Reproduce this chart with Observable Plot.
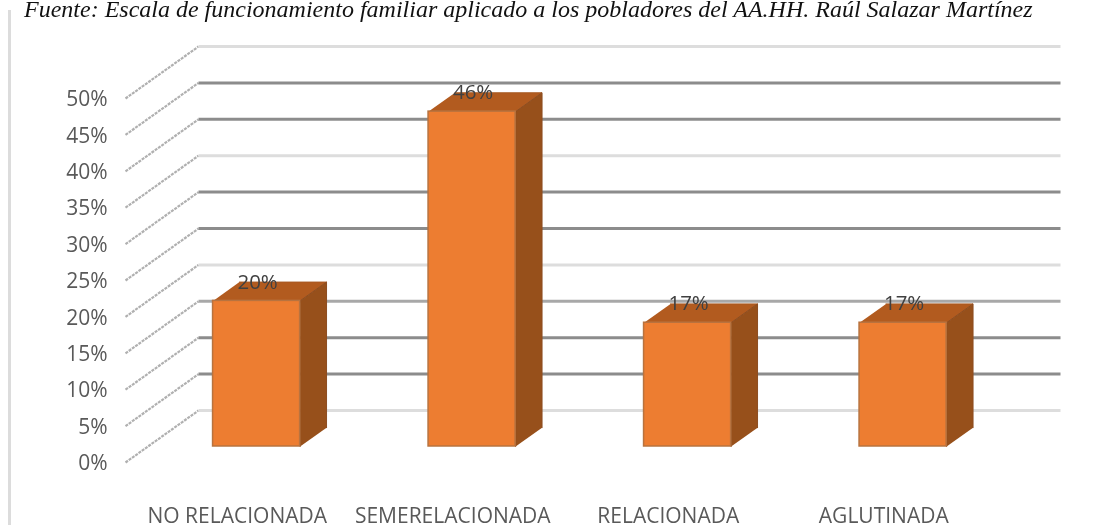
<!DOCTYPE html>
<html><head><meta charset="utf-8">
<script src="https://cdn.jsdelivr.net/npm/d3@7"></script>
<script src="https://cdn.jsdelivr.net/npm/@observablehq/plot@0.6"></script>
<style>
html,body{margin:0;padding:0;background:#fff;}
#wrap{position:relative;width:1115px;height:525px;overflow:hidden;}
#cap{position:relative;z-index:2;height:20px;padding-left:24px;font:italic 24px/20px "Liberation Serif",serif;color:#111;white-space:nowrap;margin-top:-1px;margin-bottom:1px;filter:blur(0.3px);}
#edge{position:absolute;z-index:3;left:8px;top:10px;bottom:0;width:2.5px;background:#dcdcdc;}
svg{display:block;filter:blur(0.45px);}
</style></head><body>
<div id="wrap"><div id="edge"></div>
<div id="cap">Fuente: Escala de funcionamiento familiar aplicado a los pobladores del AA.HH. Raúl Salazar Martínez</div>
<div id="chart"></div></div>
<script>
const categories = ["NO RELACIONADA","SEMERELACIONADA","RELACIONADA","AGLUTINADA"];
const values = [20,46,17,17];
const tickValues = [0,5,10,15,20,25,30,35,40,45,50];
const lightTicks = [0,20,35,50];
const midTicks = [15];

// oblique projection of the 3D chart, in scale units
const wallDx = 0.3387, wallDy = 7.14;
const barFront = 0.308, barBack = 0.67, barHalf = 0.202, barShift = 0.004;
const px = (i,d) => i + d*wallDx;
const py = (v,d) => v + d*wallDy;

const bars = categories.map((c,i)=>({c,i:i+barShift,v:values[i]}));
const face = (pts) => bars.flatMap(b => pts(b).map(p=>({id:b.c,x:p[0],y:p[1]})));
const topFace = face(b=>[
  [px(b.i-barHalf,barFront),py(b.v,barFront)],
  [px(b.i+barHalf,barFront),py(b.v,barFront)],
  [px(b.i+barHalf,barBack),py(b.v,barBack)],
  [px(b.i-barHalf,barBack),py(b.v,barBack)]]);
const sideFace = face(b=>[
  [px(b.i+barHalf,barFront),py(0,barFront)],
  [px(b.i+barHalf,barFront),py(b.v,barFront)],
  [px(b.i+barHalf,barBack),py(b.v,barBack)],
  [px(b.i+barHalf,barBack),py(0,barBack)]]);

const gridStroke = t => lightTicks.includes(t) ? "#dddddd" : midTicks.includes(t) ? "#a8a8a8" : "#8c8c8c";
const font = '"Open Sans",sans-serif';

const plot = Plot.plot({
  width:1115, height:505,
  marginLeft:125, marginRight:128, marginTop:79, marginBottom:62,
  x:{type:"linear",domain:[-0.5,3.5],range:[125,987]},
  y:{type:"linear",domain:[0,50],range:[442,78]},
  style:{fontFamily:font,background:"transparent"},
  marks:[
    Plot.link(tickValues,{x1:px(-0.5,0),y1:t=>py(t,0),x2:px(-0.5,1),y2:t=>py(t,1),stroke:"#b0b0b0",strokeWidth:2.2,strokeDasharray:"3 1"}),
    Plot.link(tickValues,{x1:px(-0.5,1),y1:t=>py(t,1),x2:px(3.5,1),y2:t=>py(t,1),stroke:gridStroke,strokeWidth:3}),
    Plot.line(topFace,{x:"x",y:"y",z:"id",fill:"#b25b1f",stroke:"#a85a24",strokeWidth:1}),
    Plot.line(sideFace,{x:"x",y:"y",z:"id",fill:"#97501b",stroke:"#8d4d20",strokeWidth:1}),
    Plot.rect(bars,{x1:b=>px(b.i-barHalf,barFront),x2:b=>px(b.i+barHalf,barFront),y1:()=>py(0,barFront),y2:b=>py(b.v,barFront),fill:"#ed7d31",stroke:"#b8733f",strokeWidth:1.5}),
    Plot.text(bars,{x:b=>px(b.i,barFront),y:b=>py(b.v,barBack),text:b=>b.v+"%",fontSize:20.5,fill:"#404040",dx:1}),
    Plot.axisY({ticks:tickValues,tickSize:0,tickPadding:18,tickFormat:d=>d+"%",fontSize:21,color:"#595959",label:null,dy:1}),
    Plot.axisX({ticks:[0,1,2,3],tickSize:0,tickPadding:45,tickFormat:i=>categories[i],fontSize:21,color:"#595959",label:null,dx:4})
  ]
});
document.getElementById("chart").appendChild(plot);
</script></body></html>
